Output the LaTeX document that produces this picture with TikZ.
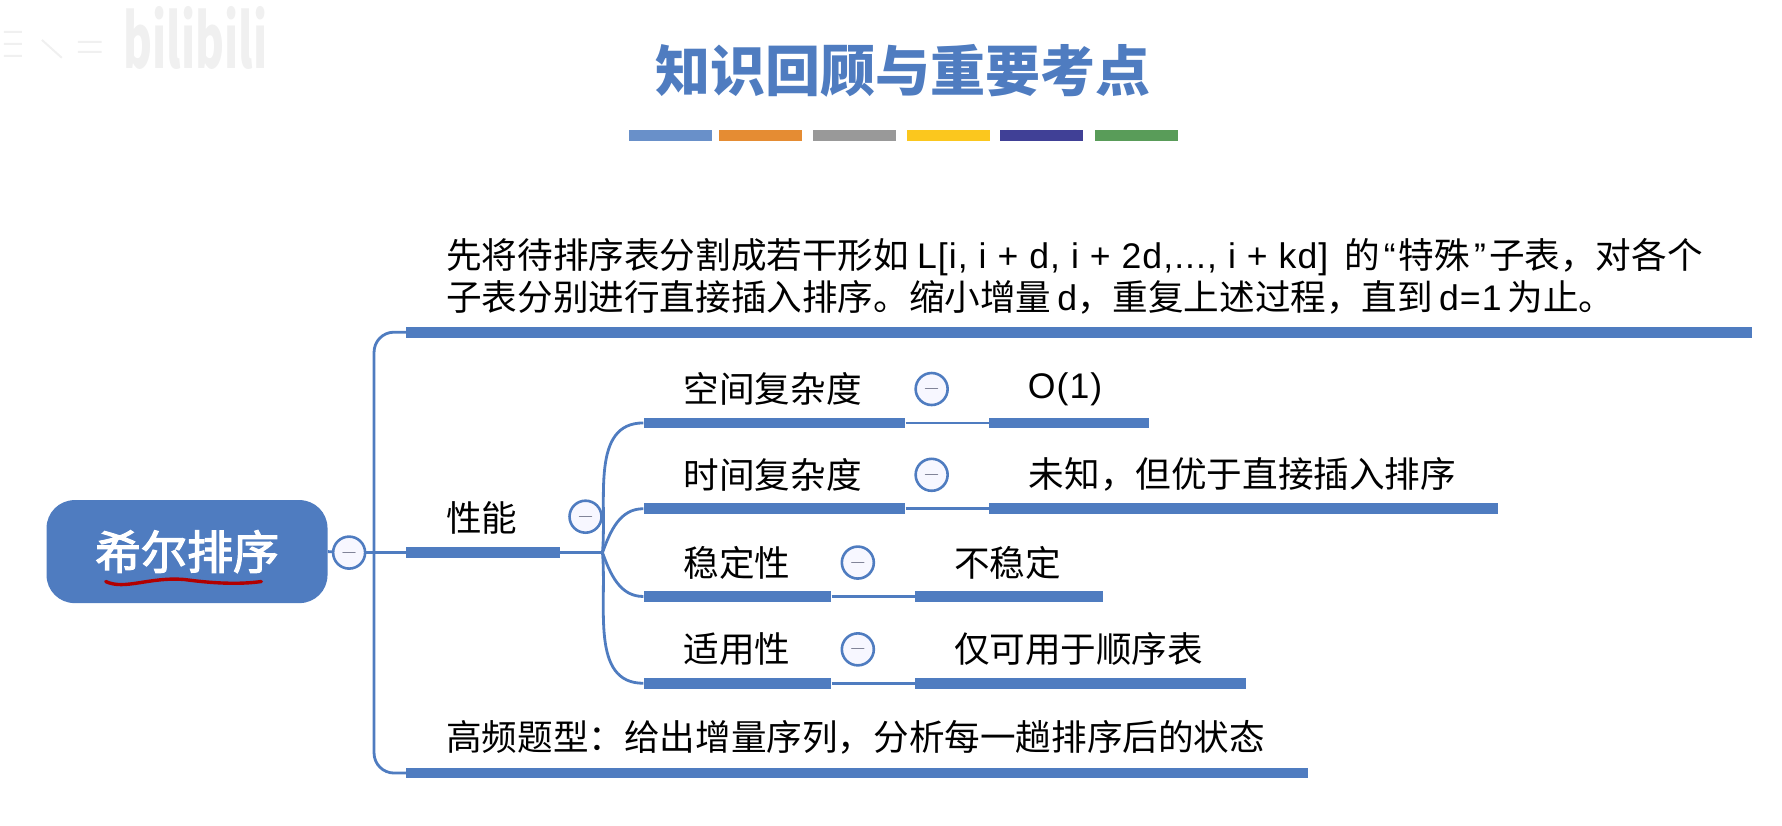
\documentclass[tikz,border=0pt]{standalone}
\usepackage{fontspec}
\setmainfont{Noto Sans CJK SC}
\newfontfamily\latinfont[LetterSpace=3]{Liberation Sans}
\newfontfamily\rootfont[FakeBold=2.5]{Noto Sans CJK SC}
\definecolor{mindblue}{HTML}{4F7CC0}
\definecolor{minusgray}{HTML}{6E7288}
\tikzset{
  thickbar/.style={fill=mindblue,inner sep=0pt,anchor=west,minimum height=5.4pt,minimum width=#1*0.49875pt},
  colorbar/.style={fill=#1,inner sep=0pt,anchor=west,minimum height=5.4pt,minimum width=41.5pt},
  leaftext/.style={inner sep=0pt,anchor=west,font=\fontsize{17.8pt}{21pt}\selectfont},
  minusdot/.style={circle,draw=mindblue,line width=1.3pt,fill=blue!3,inner sep=0pt,minimum size=16pt,
    text=minusgray,font=\fontsize{11pt}{11pt}\selectfont},
  thinline/.style={draw=mindblue,line width=1.4pt},
}
\newcommand{\lat}[1]{{\latinfont #1}}
\begin{document}
\begin{tikzpicture}[x=0.49875pt,y=-0.49875pt]
  \useasboundingbox (0,0) rectangle (1786.5,828);
  % watermark
  \node[inner sep=0pt,text=black!6,yscale=1.7,font=\fontsize{22pt}{22pt}\bfseries\selectfont] (mark) at (196,38) {bilibili};
  \draw[black!6,line width=1pt] (4,32) -- (22,32) (4,44) -- (22,44) (4,56) -- (22,56)
    (42,40) -- (62,58) (78,42) -- (102,42) (78,52) -- (102,52);
  % title
  \node[inner sep=0pt,text=mindblue,font=\fontsize{27.5pt}{30pt}\bfseries\selectfont] (title) at (905,71) {知识回顾与重要考点};
  \node[colorbar=mindblue!85!white] (barA) at (630,136) {};
  \node[colorbar={orange!55!brown!90}] (barB) at (720,136) {};
  \node[colorbar=black!40] (barC) at (815,136) {};
  \node[colorbar={yellow!55!orange!90}] (barD) at (909,136) {};
  \node[colorbar={blue!45!black!75}] (barE) at (1002,136) {};
  \node[colorbar={green!40!black!65}] (barF) at (1097,136) {};
  % root
  \node[fill=mindblue,rounded corners=14pt,minimum width=140.5pt,minimum height=51.5pt,inner sep=0pt,
    text=white,font=\rootfont\fontsize{23pt}{26pt}\selectfont] (root) at (187.5,553) {希尔排序};
  \draw[red!70!black,line width=1.7pt,line cap=round] (106,583) .. controls (125,592) and (150,578) .. (185,581)
    .. controls (215,585) and (240,586) .. (262,583);
  \node[minusdot] (rootdot) at (350,554) {$-$};
  \draw[thinline] (root.east) -- (rootdot);
  % first level
  \node[thickbar=1349] (def) at (407,333) {};
  \node[thickbar=154] (perf) at (407,554) {};
  \node[thickbar=904] (freq) at (407,775) {};
  \node[leaftext,align=left] (deftext) at (447,277) {先将待排序表分割成若干形如 \lat{L[i, i + d, i + 2d,..., i + kd]}\hspace{4pt} 的\hspace{2pt}\lat{“}\hspace{1.6pt}特殊\hspace{2pt}\lat{”}\hspace{1.6pt}子表，对各个\\子表分别进行直接插入排序。缩小增量\,\lat{d}，重复上述过程，直到\,\lat{d=1}\,为止。};
  \node[leaftext] (perftext) at (447,519) {性能};
  \node[leaftext] (freqtext) at (447,739) {高频题型：给出增量序列，分析每一趟排序后的状态};
  \coordinate (trunk) at (375,554);
  \draw[thinline] (rootdot) -- (perf.west);
  \draw[thinline,rounded corners=10pt] (def.west) -| (trunk) |- (freq.west);
  \node[minusdot] (perfdot) at (587,518) {$-$};
  % second level
  \coordinate (hub) at (604,554);
  \draw[thinline] (perf.east) -- (hub);
  \node[thickbar=262] (space) at (645,424) {};
  \node[thickbar=160] (spaceval) at (991,424) {};
  \node[thickbar=262] (time) at (645,510) {};
  \node[thickbar=510] (timeval) at (991,510) {};
  \node[thickbar=188] (stable) at (645,598) {};
  \node[thickbar=188] (stableval) at (917,598) {};
  \node[thickbar=188] (usage) at (645,685) {};
  \node[thickbar=332] (usageval) at (917,685) {};
  \foreach \from/\to in {space/spaceval,time/timeval,stable/stableval,usage/usageval}
    \draw[thinline] (\from.east) -- (\to.west);
  \draw[thinline] (hub) to[out=85,in=180] (space.west);
  \draw[thinline] (hub) to[out=70,in=180] (time.west);
  \draw[thinline] (hub) to[out=-70,in=180] (stable.west);
  \draw[thinline] (hub) to[out=-85,in=180] (usage.west);
  \node[leaftext] (spacetext) at (685,390) {空间复杂度};
  \node[leaftext] (spacevaltext) at (1030,390) {\lat{O(1)}};
  \node[leaftext] (timetext) at (685,476) {时间复杂度};
  \node[leaftext] (timevaltext) at (1031,476) {未知，但优于直接插入排序};
  \node[leaftext] (stabletext) at (685,564) {稳定性};
  \node[leaftext] (stablevaltext) at (956,564) {不稳定};
  \node[leaftext] (usagetext) at (685,651) {适用性};
  \node[leaftext] (usagevaltext) at (956,651) {仅可用于顺序表};
  \node[minusdot] (spacedot) at (934,390) {$-$};
  \node[minusdot] (timedot) at (934,476) {$-$};
  \node[minusdot] (stabledot) at (860,564) {$-$};
  \node[minusdot] (usagedot) at (860,651) {$-$};
\end{tikzpicture}
\end{document}
